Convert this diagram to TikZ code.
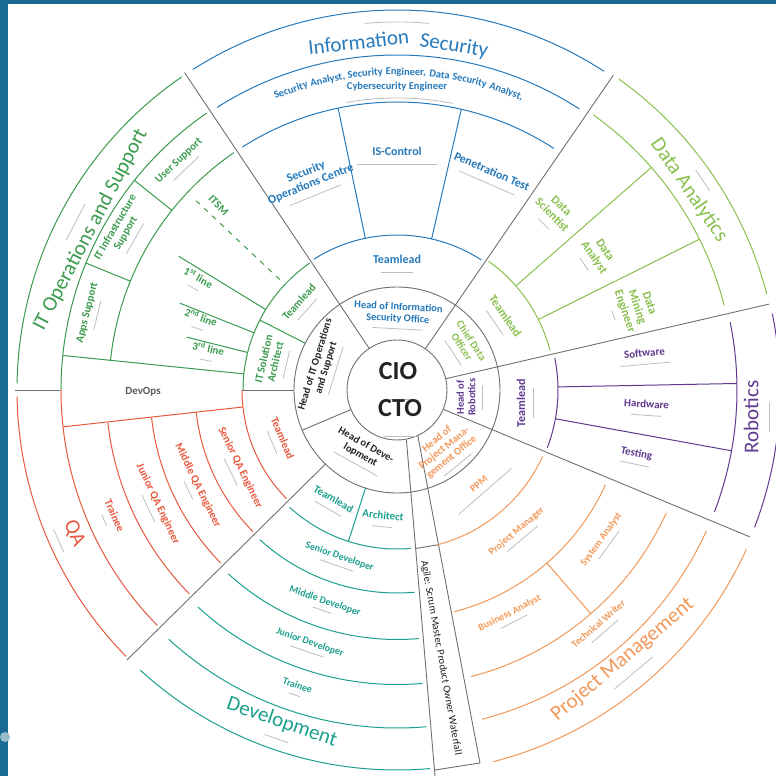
\documentclass[tikz,border=0pt]{standalone}
\usepackage{fontspec}
\setmainfont{Carlito}

\definecolor{framebg}{RGB}{26,107,147}
\definecolor{linegray}{RGB}{112,112,112}
\definecolor{subgray}{RGB}{188,190,198}
\definecolor{darktext}{RGB}{35,35,35}
\definecolor{itgreen}{RGB}{58,155,78}
\definecolor{isblue}{RGB}{38,122,188}
\definecolor{dagreen}{RGB}{138,192,78}
\definecolor{robpurple}{RGB}{96,58,142}
\definecolor{pmorange}{RGB}{242,152,88}
\definecolor{devteal}{RGB}{28,160,142}
\definecolor{qared}{RGB}{232,88,62}

% grey hint line under / over a label
\newcommand{\subl}[2][-4pt]{\\[#1]{\color{subgray}\rule{#2pt}{0.8pt}}}
\newcommand{\supl}[2][-2pt]{{\color{subgray}\rule{#2pt}{0.8pt}}\\[#1]}

\tikzset{
  divline/.style={draw=linegray, line width=0.9pt},
  itline/.style={draw=itgreen, line width=1pt},
  isline/.style={draw=isblue, line width=1pt},
  daline/.style={draw=dagreen, line width=1pt},
  robline/.style={draw=robpurple, line width=1pt},
  pmline/.style={draw=pmorange, line width=1pt},
  devline/.style={draw=devteal, line width=1pt},
  qaline/.style={draw=qared, line width=1pt},
  lbl/.style={font=\fontsize{11}{12}\selectfont\bfseries, align=center, inner sep=0pt},
  smalllbl/.style={lbl, font=\fontsize{10}{11}\selectfont\bfseries},
  largelbl/.style={lbl, font=\fontsize{12}{13}\selectfont\bfseries},
  headlbl/.style={font=\fontsize{10.5}{11.5}\selectfont\bfseries, align=center, inner sep=0pt},
  biglbl/.style={font=\fontsize{21}{24}\selectfont, align=center, inner sep=0pt},
  arclbl/.style={font=\fontsize{10.5}{11}\selectfont\bfseries, text=isblue, anchor=base, inner sep=0pt}
}

\begin{document}
\begin{tikzpicture}[x=1pt, y=1pt]
\useasboundingbox (-397,-386) rectangle (379,390);
\fill[framebg] (-397,-386) rectangle (379,390);
\fill[white] (-389,-386) rectangle (379,386);
\fill[framebg!45] (-392,-347) circle (5);
\clip (-389,-386) rectangle (379,386);

% centre and heads ring
\draw[divline] (0,0) circle (50);
\draw[divline] (0,0) circle (103);
\foreach \a in {123.8,55.5,13,-22.6}
  \draw[divline] (\a:50) -- (\a:382);
\draw[divline] (203:50) -- (203:103);
\draw[divline] (180:103) -- (180:155);
\draw[divline] (180:337) -- (180:382);
\draw[divline] (226:103) -- (225:382);
% agile strip
\draw[divline] (9.4,-49.8) -- (38,-386);
\draw[divline] (20.8,-45.7) -- (83,-373);
\draw[divline] (18.7,-158.5) -- (41.5,-154.7);
\draw[divline] (37.9,-380) -- (83,-373);

% IT operations
\draw[itline] (124.5:154) arc[start angle=124.5, end angle=180, radius=154];
\draw[itline] (124.5:288) arc[start angle=124.5, end angle=174, radius=288];
\draw[itline] (124.5:336) arc[start angle=124.5, end angle=180, radius=336];
\draw[itline] (124.5:380) arc[start angle=124.5, end angle=179, radius=380];
\draw[itline] (153:103) -- (153:154);
\draw[itline] (141.4:288) -- (141.4:336);
\draw[itline] (157.8:288) -- (157.8:336);
\draw[itline] (148.5:154) -- (148.5:256);
\draw[itline] (158.2:154) -- (158.2:234);
\draw[itline] (165.9:154) -- (165.9:217);
\draw[itline, dash pattern=on 5pt off 6pt] (136.7:161) -- (136.7:281);
\draw[itline] (174:154) -- (174.1:336);

% QA
\draw[qaline] (180:155) arc[start angle=180, end angle=224.5, radius=155];
\foreach \r in {202,247,291}
  \draw[qaline] (186.5:\r) arc[start angle=186.5, end angle=224.5, radius=\r];
\draw[qaline] (180:336) arc[start angle=180, end angle=224.5, radius=336];
\draw[qaline] (181:380) arc[start angle=181, end angle=224.5, radius=380];
\draw[qaline] (186.3:155) -- (186.3:336);

% information security
\foreach \r in {155,288,335,380}
  \draw[isline] (57:\r) arc[start angle=57, end angle=122.5, radius=\r];
\draw[isline] (101.8:155) -- (101.8:288);
\draw[isline] (77.1:155) -- (77.1:288);

% data analytics
\foreach \r in {158,338,382}
  \draw[daline] (14.5:\r) arc[start angle=14.5, end angle=54.5, radius=\r];
\draw[daline] (41.2:158) -- (41.2:338);
\draw[daline] (26.5:158) -- (26.5:338);

% robotics
\foreach \r in {161,340,383}
  \draw[robline] (-21:\r) arc[start angle=-21, end angle=11.5, radius=\r];
\draw[robline] (1.1:161) -- (1.1:340);
\draw[robline] (-10.3:161) -- (-10.3:340);

% project management
\foreach \r in {160,229,296,340,384}
  \draw[pmline] (-24.5:\r) arc[start angle=-24.5, end angle=-75.5, radius=\r];
\draw[pmline] (-49.1:229) -- (-49.1:296);

% development
\foreach \r in {159,203,249.5,294.5,338,380}
  \draw[devline] (227.5:\r) arc[start angle=227.5, end angle=275, radius=\r];
\draw[devline] (252.2:103) -- (252.2:159);

% centre labels
\node[font=\fontsize{26}{28}\selectfont\bfseries, text=darktext, align=center, inner sep=0pt] (cio) at (1,9) {CIO\subl[-7pt]{28}};
\node[font=\fontsize{26}{28}\selectfont\bfseries, text=darktext, align=center, inner sep=0pt] (cto) at (3,-28) {CTO\subl[-7pt]{32}};

% heads
\node[headlbl, text=isblue, rotate=-3] (headis) at (1,74) {Head of Information\\Security Office\subl{50}};
\node[headlbl, text=dagreen, rotate=-56.5] (headda) at (33.5:80) {Chief Data\\Officer\subl{30}};
\node[headlbl, text=robpurple, rotate=90] (headrob) at (-5.7:73) {Head of\\Robotics\subl{25}};
\node[headlbl, text=pmorange, rotate=39] (headpm) at (-51:78) {Head of\\Project Mana-\\gement Office\subl{35}};
\node[headlbl, text=darktext, rotate=-29] (headdev) at (240.7:72) {Head of Deve-\\lopment\subl{50}};
\node[headlbl, text=darktext, rotate=73] (headit) at (162.7:77) {Head of IT Operations\\and Support\subl{50}};

% IT operations labels
\node[biglbl, text=itgreen, rotate=62.4] (itbig) at (152.4:350) {\supl{40}IT Operations and Support};
\node[lbl, text=itgreen, rotate=76] (appssup) at (166:316) {Apps Support\subl{30}};
\node[lbl, text=itgreen, rotate=60] (infrasup) at (150:316) {IT Infrastructure\\Support\subl{35}};
\node[lbl, text=itgreen, rotate=43.6] (usersup) at (133.6:313) {User Support\subl{35}};
\node[lbl, text=itgreen, rotate=-46] (itsm) at (134:257) {ITSM};
\node[lbl, text=itgreen, rotate=-28.6] (lineone) at (151.4:228) {1\textsuperscript{st} line\subl{12}};
\node[lbl, text=itgreen, rotate=-19.4] (linetwo) at (160.6:209) {2\textsuperscript{nd} line\subl{12}};
\node[lbl, text=itgreen, rotate=-11.3] (linethree) at (168.7:193) {3\textsuperscript{rd} line\subl{12}};
\node[lbl, text=itgreen, rotate=48] (itteam) at (138:128) {Teamlead\subl{28}};
\node[lbl, text=itgreen, rotate=77] (itarch) at (167:127) {IT Solution\\Architect\subl{28}};
\node[lbl, text=linegray!80!black] (devops) at (180.5:254) {DevOps};

% information security labels
\node[biglbl, text=isblue, anchor=base, rotate=6.3] (isbig1) at (96.3:343) {Information};
\node[biglbl, text=isblue, anchor=base, rotate=-9.4] (isbig2) at (80.6:343) {Security};
\draw[subgray, line width=0.8pt] (95:368) arc[start angle=95, end angle=85, radius=368];
\node[arclbl, rotate=19.5] (isrole1) at (109.5:315) {Security};
\node[arclbl, rotate=12.6] (isrole2) at (102.6:315) {Analyst,};
\node[arclbl, rotate=5.75] (isrole3) at (95.75:315) {Security};
\node[arclbl, rotate=-1.6] (isrole4) at (88.4:315) {Engineer,};
\node[arclbl, rotate=-7.7] (isrole5) at (82.3:315) {Data};
\node[arclbl, rotate=-13.2] (isrole6) at (76.8:315) {Security};
\node[arclbl, rotate=-20.1] (isrole7) at (69.9:315) {Analyst,};
\node[arclbl] (cyber) at (90:300) {Cybersecurity Engineer};
\draw[subgray, line width=0.8pt] (100:292) arc[start angle=100, end angle=79, radius=292];
\node[largelbl, text=isblue, rotate=22] (soc) at (112.7:226) {Security\\Operations Centre\subl{55}};
\node[largelbl, text=isblue] (isctrl) at (90:234) {IS-Control\subl{80}};
\node[largelbl, text=isblue, rotate=-23.5] (pentest) at (66.5:234) {Penetration Test\subl{60}};
\node[largelbl, text=isblue] (isteam) at (90:126) {Teamlead\subl{32}};

% data analytics labels
\node[biglbl, text=dagreen, rotate=-55.6] (dabig) at (34.4:358) {\supl{25}Data Analytics};
\node[largelbl, text=dagreen, rotate=-45] (dasci) at (48.4:236) {Data\\Scientist\subl{15}};
\node[largelbl, text=dagreen, rotate=-56] (daana) at (33.9:240) {Data\\Analyst\subl{15}};
\node[largelbl, text=dagreen, rotate=-71] (damin) at (19:250) {Data\\Mining\\Engineer\subl{10}};
\node[largelbl, text=dagreen, rotate=-55.5] (dateam) at (34.5:127) {Teamlead\subl{30}};

% robotics labels
\node[biglbl, text=robpurple, rotate=90] (robbig) at (-4.3:361) {Robotics\subl[-12pt]{30}};
\node[lbl, text=robpurple, rotate=5] (robsw) at (7.6:250) {Software\subl{50}};
\node[lbl, text=robpurple, rotate=-4] (robhw) at (-4.1:250) {Hardware\subl{30}};
\node[lbl, text=robpurple, rotate=-12] (robts) at (-15.6:248) {Testing\subl{30}};
\node[largelbl, text=robpurple, rotate=90] (robteam) at (-5.9:129) {Teamlead\subl{30}};

% project management labels
\node[biglbl, text=pmorange, rotate=40] (pmbig) at (-50.1:356) {Project Management\subl[-12pt]{50}};
\node[smalllbl, text=pmorange, rotate=41] (ppm) at (-49:128) {PPM\subl{70}};
\node[smalllbl, text=pmorange, rotate=40] (pmman) at (-49.8:188) {Project Manager\subl{40}};
\node[smalllbl, text=pmorange, rotate=54] (pmsys) at (-36.2:256) {System Analyst\subl{35}};
\node[smalllbl, text=pmorange, rotate=27] (pmbus) at (-63.2:253) {Business Analyst\subl{30}};
\node[smalllbl, text=pmorange, rotate=41] (pmtw) at (-49.3:312) {Technical Writer\subl{35}};

% development labels
\node[biglbl, text=devteal, rotate=-19] (devbig) at (250.9:356) {Development\subl[-12pt]{25}};
\node[lbl, text=devteal, rotate=-30] (devteam) at (239.8:130) {Teamlead\subl{30}};
\node[lbl, text=devteal, rotate=-6] (devarch) at (263.7:130) {Architect\subl{20}};
\node[smalllbl, text=devteal, rotate=-19] (devsen) at (251:179) {Senior Developer\subl{35}};
\node[smalllbl, text=devteal, rotate=-19] (devmid) at (251.2:226) {Middle Developer\subl{20}};
\node[smalllbl, text=devteal, rotate=-19] (devjun) at (251:270) {Junior Developer\subl{35}};
\node[smalllbl, text=devteal, rotate=-19] (devtr) at (251.4:315) {Trainee\subl{12}};

% QA labels
\node[biglbl, text=qared, rotate=-66] (qabig) at (204:358) {QA\subl[-12pt]{25}};
\node[lbl, text=qared, rotate=-67] (qateam) at (202.8:128) {Teamlead\subl{25}};
\node[lbl, text=qared, rotate=-64] (qasen) at (206.3:178) {Senior QA Engineer\subl{30}};
\node[lbl, text=qared, rotate=-64] (qamid) at (205.7:224) {Middle QA Engineer\subl{20}};
\node[lbl, text=qared, rotate=-64.5] (qajun) at (205.5:268) {Junior QA Engineer\subl{30}};
\node[lbl, text=qared, rotate=-66] (qatr) at (204:313) {Trainee\subl{12}};

% agile strip label
\node[font=\fontsize{10.5}{11}\selectfont, text=darktext, rotate=-80, inner sep=0pt] (agile) at (44,-268) {Agile: Scrum Master, Product Owner Waterfall};
\end{tikzpicture}
\end{document}
